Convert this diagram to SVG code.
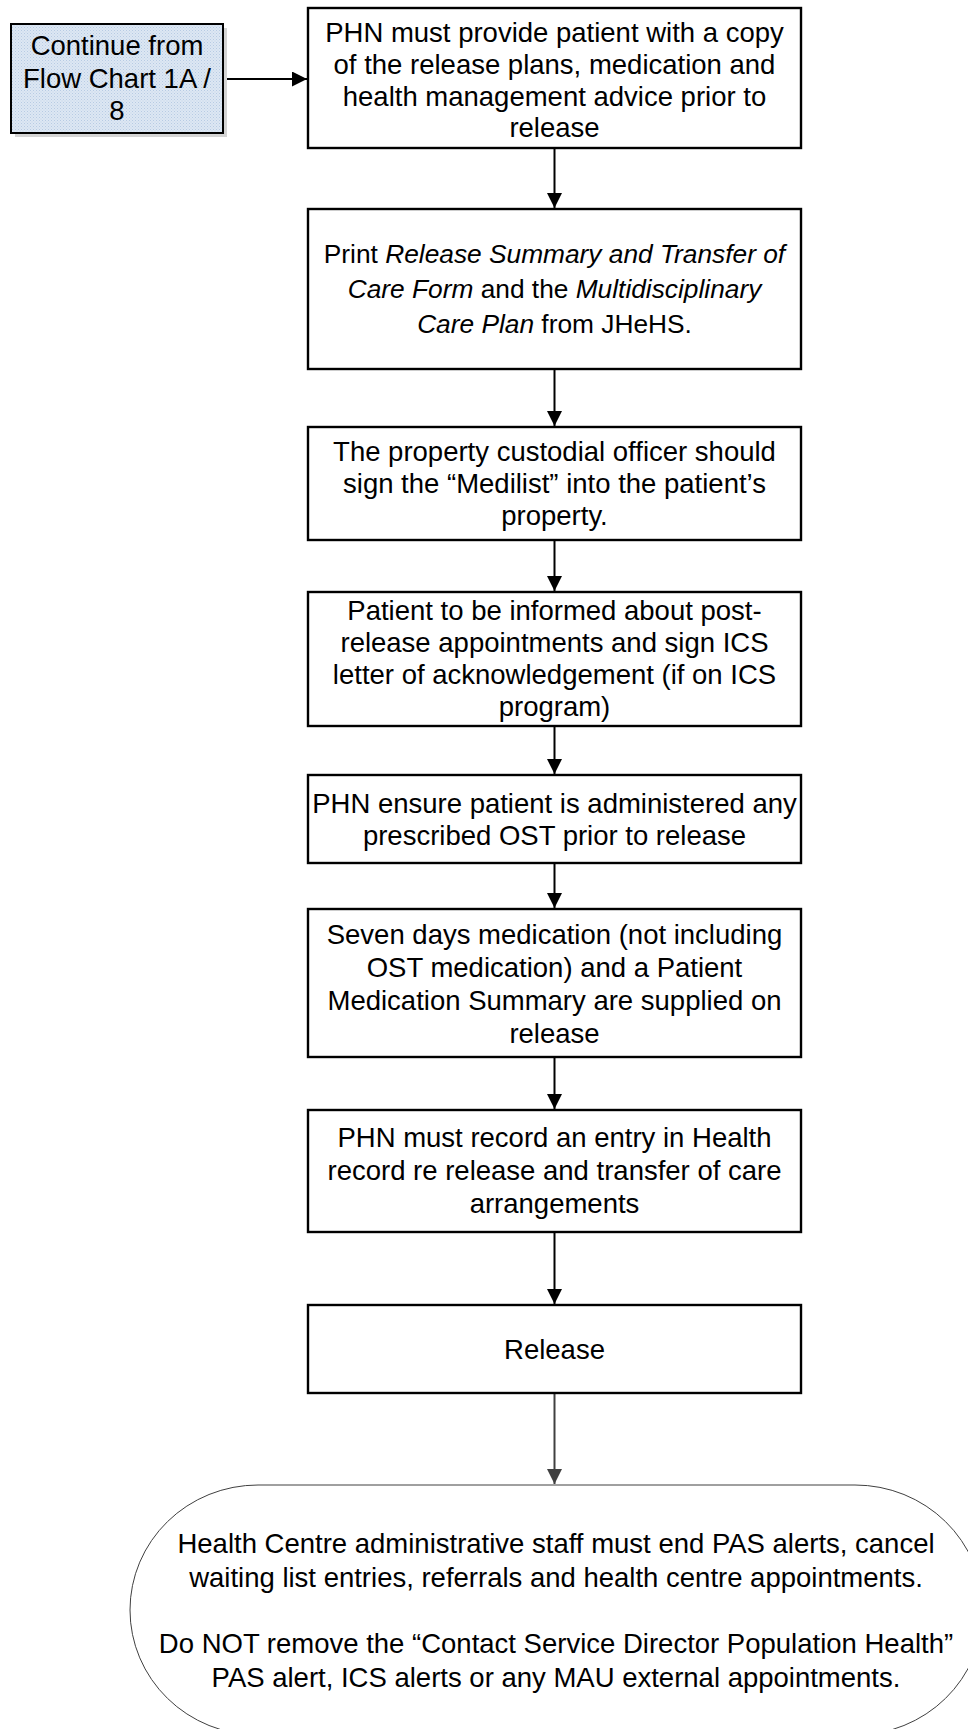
<svg xmlns="http://www.w3.org/2000/svg" width="968" height="1729" viewBox="0 0 968 1729">
  <style>
    .box { fill: #ffffff; stroke: #000000; stroke-width: 2.4; }
    .t { font-family: "Liberation Sans", Arial, sans-serif; font-size: 27.5px; fill: #000000; text-anchor: middle; }
    .t2 { font-size: 26.3px; }
    .i { font-style: italic; }
    .edge { stroke: #000000; stroke-width: 2; fill: none; }
    .edge-grey { stroke: #404040; stroke-width: 2; fill: none; }
    .term { fill: #ffffff; stroke: #404040; stroke-width: 1; }
  </style>
  <defs>
    <pattern id="dots" width="3" height="3" patternUnits="userSpaceOnUse">
      <rect width="3" height="3" fill="#dde7f3"/>
      <rect x="0" y="0" width="1" height="1" fill="#b7cbe3"/>
      <rect x="1.5" y="1.5" width="1" height="1" fill="#c4d5ea"/>
    </pattern>
    <marker id="ah" viewBox="0 0 10 10" refX="10" refY="5" markerWidth="7.5" markerHeight="7.5" markerUnits="strokeWidth" orient="auto">
      <path d="M0,0 L10,5 L0,10 z" fill="#000000"/>
    </marker>
    <marker id="ah-grey" viewBox="0 0 10 10" refX="10" refY="5" markerWidth="7.5" markerHeight="7.5" markerUnits="strokeWidth" orient="auto">
      <path d="M0,0 L10,5 L0,10 z" fill="#404040"/>
    </marker>
  </defs>

  <!-- connectors -->
  <g id="connectors">
    <line class="edge" x1="223" y1="79" x2="307" y2="79" marker-end="url(#ah)"/>
    <line class="edge" x1="554.5" y1="149" x2="554.5" y2="208" marker-end="url(#ah)"/>
    <line class="edge" x1="554.5" y1="370" x2="554.5" y2="426" marker-end="url(#ah)"/>
    <line class="edge" x1="554.5" y1="541" x2="554.5" y2="591" marker-end="url(#ah)"/>
    <line class="edge" x1="554.5" y1="727" x2="554.5" y2="774" marker-end="url(#ah)"/>
    <line class="edge" x1="554.5" y1="864" x2="554.5" y2="908" marker-end="url(#ah)"/>
    <line class="edge" x1="554.5" y1="1058" x2="554.5" y2="1109" marker-end="url(#ah)"/>
    <line class="edge" x1="554.5" y1="1233" x2="554.5" y2="1304" marker-end="url(#ah)"/>
    <line class="edge-grey" x1="554.5" y1="1394" x2="554.5" y2="1484" marker-end="url(#ah-grey)"/>
  </g>

  <!-- off-page reference -->
  <g id="continue-from">
    <rect x="15" y="28" width="212" height="109" fill="#d4d4d4"/>
    <rect x="11" y="24" width="212" height="109" fill="url(#dots)" stroke="#000000" stroke-width="2"/>
    <text class="t" x="117" y="55">Continue from</text>
    <text class="t" x="117" y="88">Flow Chart 1A /</text>
    <text class="t" x="117" y="120">8</text>
  </g>

  <g id="provide-plans">
    <rect class="box" x="308" y="8" width="493" height="140"/>
    <text class="t" x="554.5" y="42">PHN must provide patient with a copy</text>
    <text class="t" x="554.5" y="74">of the release plans, medication and</text>
    <text class="t" x="554.5" y="105.5">health management advice prior to</text>
    <text class="t" x="554.5" y="137">release</text>
  </g>

  <g id="print-forms">
    <rect class="box" x="308" y="209" width="493" height="160"/>
    <text class="t t2" x="554.5" y="263">Print <tspan class="i">Release Summary and Transfer of</tspan></text>
    <text class="t t2" x="554.5" y="298"><tspan class="i">Care Form</tspan> and the <tspan class="i">Multidisciplinary</tspan></text>
    <text class="t t2" x="554.5" y="333"><tspan class="i">Care Plan</tspan> from JHeHS.</text>
  </g>

  <g id="medilist">
    <rect class="box" x="308" y="427" width="493" height="113"/>
    <text class="t" x="554.5" y="461">The property custodial officer should</text>
    <text class="t" x="554.5" y="493">sign the “Medilist” into the patient’s</text>
    <text class="t" x="554.5" y="525">property.</text>
  </g>

  <g id="inform-patient">
    <rect class="box" x="308" y="592" width="493" height="134"/>
    <text class="t" x="554.5" y="620">Patient to be informed about post-</text>
    <text class="t" x="554.5" y="652">release appointments and sign ICS</text>
    <text class="t" x="554.5" y="684">letter of acknowledgement (if on ICS</text>
    <text class="t" x="554.5" y="716">program)</text>
  </g>

  <g id="administer-ost">
    <rect class="box" x="308" y="775" width="493" height="88"/>
    <text class="t" x="554.5" y="813">PHN ensure patient is administered any</text>
    <text class="t" x="554.5" y="845">prescribed OST prior to release</text>
  </g>

  <g id="supply-medication">
    <rect class="box" x="308" y="909" width="493" height="148"/>
    <text class="t" x="554.5" y="944">Seven days medication (not including</text>
    <text class="t" x="554.5" y="977">OST medication) and a Patient</text>
    <text class="t" x="554.5" y="1010">Medication Summary are supplied on</text>
    <text class="t" x="554.5" y="1043">release</text>
  </g>

  <g id="record-entry">
    <rect class="box" x="308" y="1110" width="493" height="122"/>
    <text class="t" x="554.5" y="1147">PHN must record an entry in Health</text>
    <text class="t" x="554.5" y="1180">record re release and transfer of care</text>
    <text class="t" x="554.5" y="1213">arrangements</text>
  </g>

  <g id="release">
    <rect class="box" x="308" y="1305" width="493" height="88"/>
    <text class="t" x="554.5" y="1359">Release</text>
  </g>

  <g id="admin-tasks">
    <rect class="term" x="130" y="1485" width="853" height="250" rx="128" ry="125"/>
    <text class="t" x="556" y="1553">Health Centre administrative staff must end PAS alerts, cancel</text>
    <text class="t" x="556" y="1587">waiting list entries, referrals and health centre appointments.</text>
    <text class="t" x="556" y="1653">Do NOT remove the “Contact Service Director Population Health”</text>
    <text class="t" x="556" y="1687">PAS alert, ICS alerts or any MAU external appointments.</text>
  </g>
</svg>
